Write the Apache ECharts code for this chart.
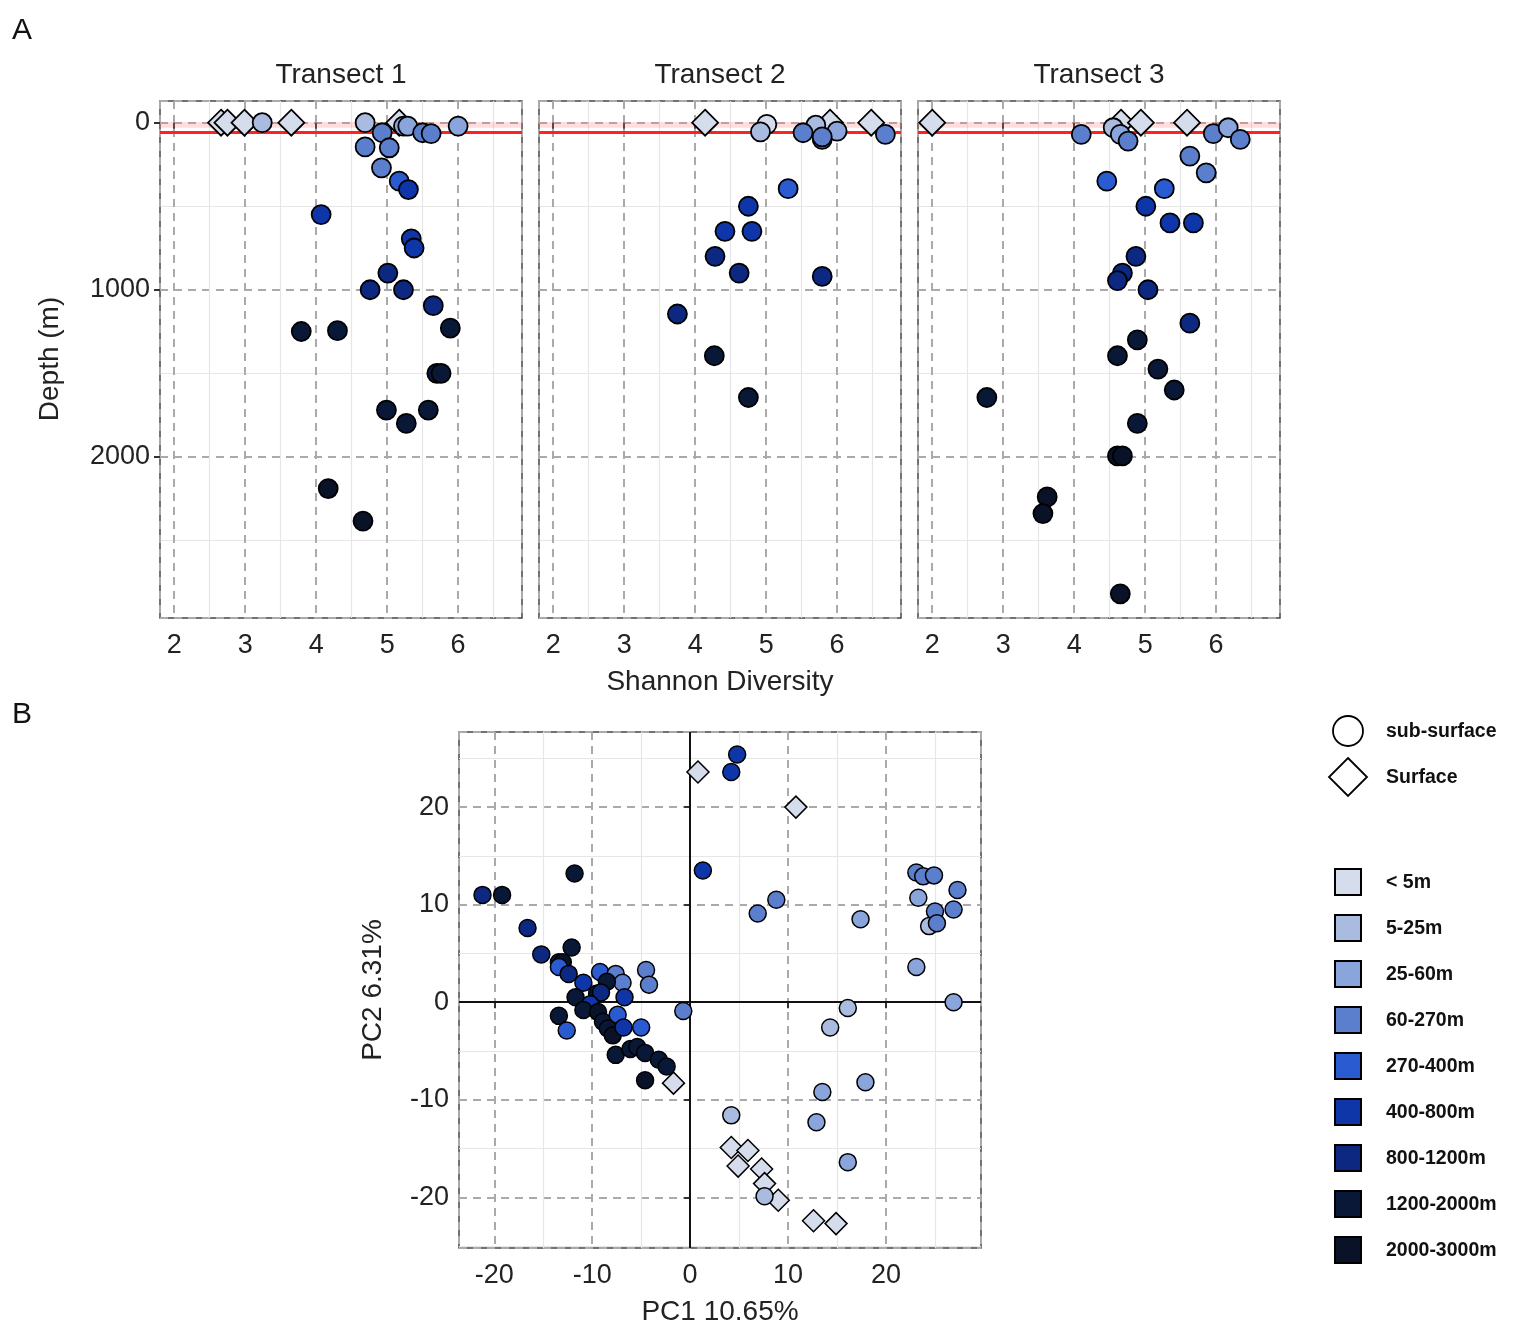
<!DOCTYPE html>
<html><head><meta charset="utf-8">
<script src="https://cdn.jsdelivr.net/npm/echarts@6/dist/echarts.min.js"></script>
<style>html,body{margin:0;padding:0;background:#fff}#c{width:1536px;height:1344px}</style>
</head><body><div id="c"></div>
<script>
var depthCats = ['< 5m','5-25m','25-60m','60-270m','270-400m','400-800m','800-1200m','1200-2000m','2000-3000m'];
var catColors = ['#d5dcec','#aabbe0','#8aa4dc','#5b7fcc','#2a5bd0','#0f36a8','#0c2880','#0a1838','#0a1228'];
var shapeLabels = ['sub-surface','Surface'];
var panelTitles = ['Transect 1','Transect 2','Transect 3'];

// Transect data: shannon, depth, category index, shape (1=Surface diamond, 0=circle)
var t1H = [2.66,2.75,2.99,3.65,5.17, 3.24,4.69,4.93,5.23,5.29,5.50,5.62,6.00,4.69,5.03,4.92,5.17,5.30,4.07,5.34,5.38,5.01,4.76,5.23,5.65,5.89,3.79,4.30,5.70,5.76,4.99,5.58,5.27,4.17,4.66];
var t1D = [0,0,0,0,0, 0,0,60,20,20,60,65,20,145,150,270,350,400,550,695,750,900,1000,1000,1095,1230,1250,1245,1500,1500,1720,1720,1800,2190,2385];
var t1C = [0,0,0,0,0, 1,1,3,2,2,3,3,2,3,3,3,4,5,5,5,5,6,6,6,6,7,7,7,7,7,7,7,7,8,8];
var t1S = [1,1,1,1,1, 0,0,0,0,0,0,0,0,0,0,0,0,0,0,0,0,0,0,0,0,0,0,0,0,0,0,0,0,0,0];

var t2H = [4.14,5.90,6.48, 5.01,4.92,5.70,5.52,5.79,6.00,6.68,5.79,5.31,4.75,4.42,4.80,4.28,4.62,5.79,3.75,4.27,4.75];
var t2D = [0,0,0, 10,55,15,60,100,50,70,85,395,500,650,650,800,900,920,1145,1395,1645];
var t2C = [0,0,0, 0,1,1,3,3,2,3,3,4,5,5,5,6,6,6,6,7,7];
var t2S = [1,1,1, 0,0,0,0,0,0,0,0,0,0,0,0,0,0,0,0,0,0];

var t3H = [2.00,4.66,4.94,5.59, 4.55,4.10,4.65,4.76,5.96,6.17,6.34,5.63,5.86,4.46,5.27,5.01,5.35,5.68,4.87,4.68,4.61,5.04,5.63,4.89,4.61,5.18,5.41,2.77,4.89,4.61,4.68,3.62,3.56,4.65];
var t3D = [0,0,0,0, 30,70,70,110,65,30,100,200,300,350,395,500,600,600,800,900,945,1000,1200,1300,1395,1475,1600,1645,1800,1995,1995,2240,2340,2820];
var t3C = [0,0,0,0, 1,3,2,3,3,2,3,3,3,4,4,5,5,5,6,6,6,6,6,7,7,7,7,7,7,8,8,8,8,8];
var t3S = [1,1,1,1, 0,0,0,0,0,0,0,0,0,0,0,0,0,0,0,0,0,0,0,0,0,0,0,0,0,0,0,0,0,0];

// PCA: PC1, PC2, category, shape
var pc1 = [0.8,10.8,-1.7,4.2,5.9,4.9,7.3,7.6,9.0,12.6,14.9,
  4.8,4.2,1.3,8.8,6.9,17.4,23.1,23.8,24.9,27.3,23.3,25.0,26.9,24.4,25.2,23.1,26.9,16.1,14.3,-0.7,17.9,13.5,4.2,12.9,16.1,7.6,
  -21.2,-19.2,-16.6,-11.8,-15.2,-12.1,-13.4,-13.0,-13.4,-12.4,-10.9,-9.2,-7.6,-6.9,-8.5,-4.5,-4.2,-11.7,-9.5,-9.1,-6.7,-10.2,-10.9,-9.4,-13.4,-12.6,-8.9,-8.4,-7.4,-7.9,-6.8,-5.0,-7.6,-6.1,-5.4,-4.6,-3.2,-2.4,-4.6];
var pc2 = [23.6,20.0,-8.3,-14.9,-15.2,-16.8,-17.1,-18.6,-20.3,-22.4,-22.7,
  25.4,23.6,13.5,10.5,9.1,8.5,13.3,12.9,13.0,11.5,10.7,9.3,9.5,7.8,8.1,3.6,0.0,-0.6,-2.6,-0.9,-8.2,-9.2,-11.6,-12.3,-16.4,-19.9,
  11.0,11.0,7.6,13.2,4.9,5.6,4.1,4.1,3.6,2.9,2.0,3.1,2.9,2.0,2.1,3.3,1.8,0.5,0.9,1.0,0.5,-0.2,-0.8,-1.0,-1.4,-2.9,-2.0,-2.7,-1.3,-3.4,-2.6,-2.6,-5.4,-4.8,-4.6,-5.2,-5.9,-6.6,-8.0];
var pcC = [0,0,0,0,0,0,0,0,0,0,0,
  5,5,5,3,3,2,3,3,3,3,2,3,3,1,3,2,2,1,1,3,2,2,1,2,2,1,
  6,7,6,7,6,7,7,8,4,6,5,4,3,3,7,3,3,7,8,6,5,5,7,8,7,4,7,7,4,8,5,4,7,7,7,7,7,7,8];
var pcS = [1,1,1,1,1,1,1,1,1,1,1,
  0,0,0,0,0,0,0,0,0,0,0,0,0,0,0,0,0,0,0,0,0,0,0,0,0,0,
  0,0,0,0,0,0,0,0,0,0,0,0,0,0,0,0,0,0,0,0,0,0,0,0,0,0,0,0,0,0,0,0,0,0,0,0,0,0,0];

var FONT = 'Liberation Sans';
var panelLeft = [160,539,918];
var grids = [], xAxes = [], yAxes = [], series = [];
function axisCommon(){
  return {
    axisLine:{show:false},
    axisTick:{show:true,length:6,lineStyle:{color:'#333',width:2}},
    axisLabel:{color:'#222',fontSize:27,fontFamily:FONT,showMinLabel:false,showMaxLabel:false,margin:10,
      formatter:function(v){return String(v);}},
    splitLine:{show:true,lineStyle:{color:'#aaa',type:[8,6],width:2}},
    minorTick:{show:false,splitNumber:2},
    minorSplitLine:{show:true,lineStyle:{color:'#e6e6e6',width:1.2}}
  };
}
var trans = [[t1H,t1D,t1C,t1S],[t2H,t2D,t2C,t2S],[t3H,t3D,t3C,t3S]];
for (var p=0;p<3;p++){
  grids.push({left:panelLeft[p],top:101,width:362,height:517,show:true,borderColor:'#444',borderWidth:1.5,backgroundColor:'#fff'});
  var xa = axisCommon(); xa.gridIndex=p; xa.type='value'; xa.min=1.8; xa.max=6.9; xa.splitNumber=5; xa.axisLabel.margin=14;
  xAxes.push(xa);
  var ya = axisCommon(); ya.gridIndex=p; ya.type='value'; ya.min=-130; ya.max=2965; ya.splitNumber=3; ya.inverse=true;
  if (p>0){ ya.axisLabel.show=false; ya.axisTick.show=false; }
  yAxes.push(ya);
  var d = trans[p], pts=[];
  for (var i=0;i<d[0].length;i++){
    pts.push({value:[d[0][i],d[1][i]],symbol:d[3][i]?'diamond':'circle',symbolSize:d[3][i]?[26,26]:19,
      itemStyle:{color:catColors[d[2][i]],borderColor:'#000',borderWidth:1.8,opacity:1}});
  }
  series.push({type:'scatter',xAxisIndex:p,yAxisIndex:p,data:pts,z:5,itemStyle:{opacity:1},
    markArea:{silent:true,itemStyle:{color:'rgba(255,120,120,0.25)'},data:[[{yAxis:-5},{yAxis:30}]]},
    markLine:{silent:true,symbol:'none',label:{show:false},lineStyle:{color:'#f22',width:3,type:'solid'},data:[{yAxis:60}]}
  });
}
// PCA panel
grids.push({left:459,top:732,width:522,height:516,show:true,borderColor:'#444',borderWidth:1.5});
var xb = axisCommon(); xb.gridIndex=3; xb.type='value'; xb.min=-23.6; xb.max=29.7; xb.splitNumber=5; xb.axisLabel.margin=14;
xb.name='PC1 10.65%'; xb.nameLocation='middle'; xb.nameGap=50; xb.nameTextStyle={fontSize:28,fontFamily:FONT,color:'#222'};
xAxes.push(xb);
var yb = axisCommon(); yb.gridIndex=3; yb.type='value'; yb.min=-25.2; yb.max=27.7; yb.splitNumber=5;
yb.name='PC2 6.31%'; yb.nameLocation='middle'; yb.nameGap=72; yb.nameTextStyle={fontSize:28,fontFamily:FONT,color:'#222'};
yAxes.push(yb);
var pcs=[];
for (var j=0;j<pc1.length;j++){
  pcs.push({value:[pc1[j],pc2[j]],symbol:pcS[j]?'diamond':'circle',symbolSize:pcS[j]?[22,22]:17,
    itemStyle:{color:catColors[pcC[j]],borderColor:'#000',borderWidth:1.5,opacity:1}});
}
series.push({type:'scatter',xAxisIndex:3,yAxisIndex:3,data:pcs,z:5,itemStyle:{opacity:1},
  markLine:{silent:true,symbol:'none',label:{show:false},lineStyle:{color:'#111',width:2,type:'solid'},data:[{xAxis:0},{yAxis:0}]}});

var graphic = [
  {type:'text',left:12,top:16,style:{text:'A',fontSize:30,fontFamily:FONT,fill:'#111'}},
  {type:'text',left:12,top:700,style:{text:'B',fontSize:30,fontFamily:FONT,fill:'#111'}},
  {type:'text',x:720,y:682,style:{text:'Shannon Diversity',fontSize:28,fontFamily:FONT,fill:'#222',align:'center',verticalAlign:'middle'}},
  {type:'text',x:50,y:359,rotation:Math.PI/2,style:{text:'Depth (m)',fontSize:28,fontFamily:FONT,fill:'#222',align:'center',verticalAlign:'middle'}}
];
for (var p2=0;p2<3;p2++){
  graphic.push({type:'text',x:panelLeft[p2]+181,y:75,style:{text:panelTitles[p2],fontSize:28,fontFamily:FONT,fill:'#222',align:'center',verticalAlign:'middle'}});
}
// shape legend
graphic.push({type:'circle',shape:{cx:1348,cy:731,r:15},style:{fill:'#fff',stroke:'#000',lineWidth:1.8}});
graphic.push({type:'polygon',shape:{points:[[1348,758],[1367,777],[1348,796],[1329,777]]},style:{fill:'#fff',stroke:'#000',lineWidth:1.8}});
for (var s=0;s<2;s++){
  graphic.push({type:'text',x:1386,y:732+46*s,style:{text:shapeLabels[s],fontSize:19.5,fontWeight:'bold',fontFamily:FONT,fill:'#111',verticalAlign:'middle'}});
}
for (var k=0;k<depthCats.length;k++){
  var cy = 882+46*k;
  graphic.push({type:'rect',shape:{x:1335,y:cy-13,width:26,height:26},style:{fill:catColors[k],stroke:'#000',lineWidth:2}});
  graphic.push({type:'text',x:1386,y:cy+1,style:{text:depthCats[k],fontSize:19.5,fontWeight:'bold',fontFamily:FONT,fill:'#111',verticalAlign:'middle'}});
}

var chart = echarts.init(document.getElementById('c'));
chart.setOption({animation:false,backgroundColor:'#fff',grid:grids,xAxis:xAxes,yAxis:yAxes,series:series,graphic:graphic});
</script></body></html>
